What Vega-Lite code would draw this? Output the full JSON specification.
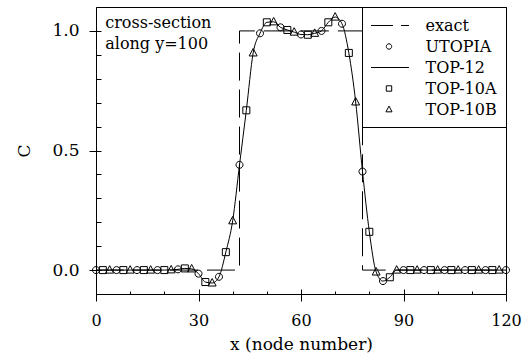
{
  "$schema": "https://vega.github.io/schema/vega-lite/v6.json",
  "width": 410,
  "height": 287,
  "autosize": "none",
  "padding": {"left": 96, "top": 7, "right": 17, "bottom": 65},
  "background": "white",
  "config": {
    "view": {"stroke": "black", "strokeWidth": 1},
    "axis": {"labelFont": "DejaVu Serif", "titleFont": "DejaVu Serif", "labelFontSize": 16, "titleFontSize": 17, "titleFontWeight": "normal", "labelColor": "black", "titleColor": "black", "tickColor": "black", "domainColor": "black", "grid": false, "labelFlush": false, "tickWidth": 1, "domainWidth": 1}
  },
  "datasets": {
    "lines": [
      {"s": "exact", "i": 0, "x": 0, "y": 0},
      {"s": "exact", "i": 1, "x": 42, "y": 0},
      {"s": "exact", "i": 2, "x": 42, "y": 1},
      {"s": "exact", "i": 3, "x": 78, "y": 1},
      {"s": "exact", "i": 4, "x": 78, "y": 0},
      {"s": "exact", "i": 5, "x": 120, "y": 0},
      {"s": "TOP-12", "i": 0, "x": 0, "y": 0},
      {"s": "TOP-12", "i": 1, "x": 2, "y": 0},
      {"s": "TOP-12", "i": 2, "x": 4, "y": 0},
      {"s": "TOP-12", "i": 3, "x": 6, "y": 0},
      {"s": "TOP-12", "i": 4, "x": 8, "y": 0},
      {"s": "TOP-12", "i": 5, "x": 10, "y": 0},
      {"s": "TOP-12", "i": 6, "x": 12, "y": 0},
      {"s": "TOP-12", "i": 7, "x": 14, "y": 0},
      {"s": "TOP-12", "i": 8, "x": 16, "y": 0},
      {"s": "TOP-12", "i": 9, "x": 18, "y": 0},
      {"s": "TOP-12", "i": 10, "x": 20, "y": 0},
      {"s": "TOP-12", "i": 11, "x": 22, "y": 0.001},
      {"s": "TOP-12", "i": 12, "x": 24, "y": 0.003},
      {"s": "TOP-12", "i": 13, "x": 26, "y": 0.007},
      {"s": "TOP-12", "i": 14, "x": 28, "y": 0.005},
      {"s": "TOP-12", "i": 15, "x": 30, "y": -0.015},
      {"s": "TOP-12", "i": 16, "x": 32, "y": -0.05},
      {"s": "TOP-12", "i": 17, "x": 34, "y": -0.054},
      {"s": "TOP-12", "i": 18, "x": 36, "y": -0.028},
      {"s": "TOP-12", "i": 19, "x": 38, "y": 0.075},
      {"s": "TOP-12", "i": 20, "x": 40, "y": 0.206},
      {"s": "TOP-12", "i": 21, "x": 42, "y": 0.44},
      {"s": "TOP-12", "i": 22, "x": 44, "y": 0.668},
      {"s": "TOP-12", "i": 23, "x": 46, "y": 0.908},
      {"s": "TOP-12", "i": 24, "x": 48, "y": 0.99},
      {"s": "TOP-12", "i": 25, "x": 50, "y": 1.036},
      {"s": "TOP-12", "i": 26, "x": 52, "y": 1.038},
      {"s": "TOP-12", "i": 27, "x": 54, "y": 1.015},
      {"s": "TOP-12", "i": 28, "x": 56, "y": 1.004},
      {"s": "TOP-12", "i": 29, "x": 58, "y": 0.995},
      {"s": "TOP-12", "i": 30, "x": 60, "y": 0.985},
      {"s": "TOP-12", "i": 31, "x": 62, "y": 0.984},
      {"s": "TOP-12", "i": 32, "x": 64, "y": 0.99},
      {"s": "TOP-12", "i": 33, "x": 66, "y": 1.0},
      {"s": "TOP-12", "i": 34, "x": 68, "y": 1.036},
      {"s": "TOP-12", "i": 35, "x": 70, "y": 1.058},
      {"s": "TOP-12", "i": 36, "x": 72, "y": 1.03},
      {"s": "TOP-12", "i": 37, "x": 74, "y": 0.908},
      {"s": "TOP-12", "i": 38, "x": 76, "y": 0.703},
      {"s": "TOP-12", "i": 39, "x": 78, "y": 0.412},
      {"s": "TOP-12", "i": 40, "x": 80, "y": 0.16},
      {"s": "TOP-12", "i": 41, "x": 82, "y": -0.008},
      {"s": "TOP-12", "i": 42, "x": 84, "y": -0.046},
      {"s": "TOP-12", "i": 43, "x": 86, "y": -0.03},
      {"s": "TOP-12", "i": 44, "x": 88, "y": 0},
      {"s": "TOP-12", "i": 45, "x": 90, "y": 0},
      {"s": "TOP-12", "i": 46, "x": 96, "y": 0},
      {"s": "TOP-12", "i": 47, "x": 102, "y": 0},
      {"s": "TOP-12", "i": 48, "x": 108, "y": 0},
      {"s": "TOP-12", "i": 49, "x": 114, "y": 0},
      {"s": "TOP-12", "i": 50, "x": 120, "y": 0}
    ],
    "pts": [
      {"s": "UTOPIA", "x": 0, "y": 0}, {"s": "UTOPIA", "x": 6, "y": 0}, {"s": "UTOPIA", "x": 12, "y": 0}, {"s": "UTOPIA", "x": 18, "y": 0},
      {"s": "UTOPIA", "x": 24, "y": 0.003}, {"s": "UTOPIA", "x": 30, "y": -0.015}, {"s": "UTOPIA", "x": 36, "y": -0.028}, {"s": "UTOPIA", "x": 42, "y": 0.44},
      {"s": "UTOPIA", "x": 48, "y": 0.99}, {"s": "UTOPIA", "x": 54, "y": 1.015}, {"s": "UTOPIA", "x": 60, "y": 0.985}, {"s": "UTOPIA", "x": 66, "y": 1.0},
      {"s": "UTOPIA", "x": 72, "y": 1.03}, {"s": "UTOPIA", "x": 78, "y": 0.412}, {"s": "UTOPIA", "x": 84, "y": -0.046}, {"s": "UTOPIA", "x": 90, "y": 0},
      {"s": "UTOPIA", "x": 96, "y": 0}, {"s": "UTOPIA", "x": 102, "y": 0}, {"s": "UTOPIA", "x": 108, "y": 0}, {"s": "UTOPIA", "x": 114, "y": 0}, {"s": "UTOPIA", "x": 120, "y": 0},
      {"s": "TOP-10A", "x": 2, "y": 0}, {"s": "TOP-10A", "x": 8, "y": 0}, {"s": "TOP-10A", "x": 14, "y": 0}, {"s": "TOP-10A", "x": 20, "y": 0},
      {"s": "TOP-10A", "x": 26, "y": 0.007}, {"s": "TOP-10A", "x": 32, "y": -0.05}, {"s": "TOP-10A", "x": 38, "y": 0.075}, {"s": "TOP-10A", "x": 44, "y": 0.668},
      {"s": "TOP-10A", "x": 50, "y": 1.036}, {"s": "TOP-10A", "x": 56, "y": 1.004}, {"s": "TOP-10A", "x": 62, "y": 0.984}, {"s": "TOP-10A", "x": 68, "y": 1.036},
      {"s": "TOP-10A", "x": 74, "y": 0.908}, {"s": "TOP-10A", "x": 80, "y": 0.16}, {"s": "TOP-10A", "x": 86, "y": -0.03}, {"s": "TOP-10A", "x": 92, "y": 0},
      {"s": "TOP-10A", "x": 98, "y": 0}, {"s": "TOP-10A", "x": 104, "y": 0}, {"s": "TOP-10A", "x": 110, "y": 0}, {"s": "TOP-10A", "x": 116, "y": 0},
      {"s": "TOP-10B", "x": 4, "y": 0}, {"s": "TOP-10B", "x": 10, "y": 0}, {"s": "TOP-10B", "x": 16, "y": 0}, {"s": "TOP-10B", "x": 22, "y": 0.001},
      {"s": "TOP-10B", "x": 28, "y": 0.005}, {"s": "TOP-10B", "x": 34, "y": -0.054}, {"s": "TOP-10B", "x": 40, "y": 0.206}, {"s": "TOP-10B", "x": 46, "y": 0.908},
      {"s": "TOP-10B", "x": 52, "y": 1.038}, {"s": "TOP-10B", "x": 58, "y": 0.995}, {"s": "TOP-10B", "x": 64, "y": 0.99}, {"s": "TOP-10B", "x": 70, "y": 1.058},
      {"s": "TOP-10B", "x": 76, "y": 0.703}, {"s": "TOP-10B", "x": 82, "y": -0.008}, {"s": "TOP-10B", "x": 88, "y": 0}, {"s": "TOP-10B", "x": 94, "y": 0},
      {"s": "TOP-10B", "x": 100, "y": 0}, {"s": "TOP-10B", "x": 106, "y": 0}, {"s": "TOP-10B", "x": 112, "y": 0}, {"s": "TOP-10B", "x": 118, "y": 0}
    ],
    "note": [{"x": 2.7, "y": 1.012, "t": ["cross-section", "along y=100"]}]
  },
  "layer": [
    {
      "data": {"name": "lines"},
      "transform": [{"filter": "datum.s === 'exact'"}],
      "mark": {"type": "line", "color": "black", "strokeWidth": 1, "strokeDash": [28, 9]},
      "encoding": {
        "x": {"field": "x", "type": "quantitative", "scale": {"domain": [0, 120], "nice": false, "zero": false},
              "axis": {"orient": "bottom", "values": [0, 30, 60, 90, 120], "tickSize": 7, "labelPadding": 11, "title": "x (node number)", "titlePadding": 8}},
        "y": {"field": "y", "type": "quantitative", "scale": {"domain": [-0.1, 1.1], "nice": false, "zero": false},
              "axis": {"orient": "left", "values": [0, 0.5, 1], "format": ".1f", "labelFontSize": 17, "tickSize": 7, "labelPadding": 10, "title": "C", "titlePadding": 18}},
        "order": {"field": "i", "type": "quantitative"}
      }
    },
    {
      "data": {"name": "lines"},
      "transform": [{"filter": "datum.s === 'TOP-12'"}],
      "mark": {"type": "line", "color": "black", "strokeWidth": 1, "interpolate": "monotone"},
      "encoding": {
        "x": {"field": "x", "type": "quantitative",
              "axis": {"orient": "bottom", "values": [10, 20, 40, 50, 70, 80, 100, 110], "tickSize": -3, "labels": false, "domain": false, "title": null}},
        "y": {"field": "y", "type": "quantitative",
              "axis": {"orient": "left", "values": [0, 0.1, 0.2, 0.3, 0.4, 0.5, 0.6, 0.7, 0.8, 0.9, 1.0], "tickSize": -5, "labels": false, "domain": false, "title": null}},
        "order": {"field": "i", "type": "quantitative"}
      }
    },
    {
      "data": {"name": "pts"},
      "mark": {"type": "point", "filled": false, "color": "black", "strokeWidth": 1, "opacity": 1, "size": 545},
      "encoding": {
        "x": {"field": "x", "type": "quantitative",
              "axis": {"orient": "bottom", "values": [30, 60, 90], "tickSize": -5, "labels": false, "domain": false, "title": null}},
        "y": {"field": "y", "type": "quantitative", "axis": null},
        "shape": {"field": "s", "type": "nominal",
          "scale": {"domain": ["exact", "UTOPIA", "TOP-12", "TOP-10A", "TOP-10B"],
                    "range": ["M-2,0H0.44M1.33,0H2.22", "M0.3,0A0.3,0.3,0,1,1,-0.3,0A0.3,0.3,0,1,1,0.3,0Z", "M-2,0H2.22", "M-0.3,-0.3H0.3V0.3H-0.3Z", "M0,-0.38L0.34,0.26L-0.34,0.26Z"]},
          "legend": {"title": null, "orient": "top-right", "offset": 0, "padding": 9, "strokeColor": "black", "symbolSize": 324, "symbolOffset": 8.5, "labelOffset": 27, "labelFont": "DejaVu Serif", "labelFontSize": 16, "labelColor": "black", "rowPadding": 3, "symbolStrokeWidth": 1, "symbolStrokeColor": "black", "symbolFillColor": "transparent", "labelBaseline": "middle"}}
      }
    },
    {
      "data": {"name": "note"},
      "mark": {"type": "text", "align": "left", "baseline": "alphabetic", "font": "DejaVu Serif", "fontSize": 16, "lineHeight": 21, "color": "black"},
      "encoding": {
        "x": {"field": "x", "type": "quantitative", "axis": null},
        "y": {"field": "y", "type": "quantitative", "axis": null},
        "text": {"field": "t"}
      }
    }
  ],
  "resolve": {"axis": {"x": "independent", "y": "independent"}}
}
